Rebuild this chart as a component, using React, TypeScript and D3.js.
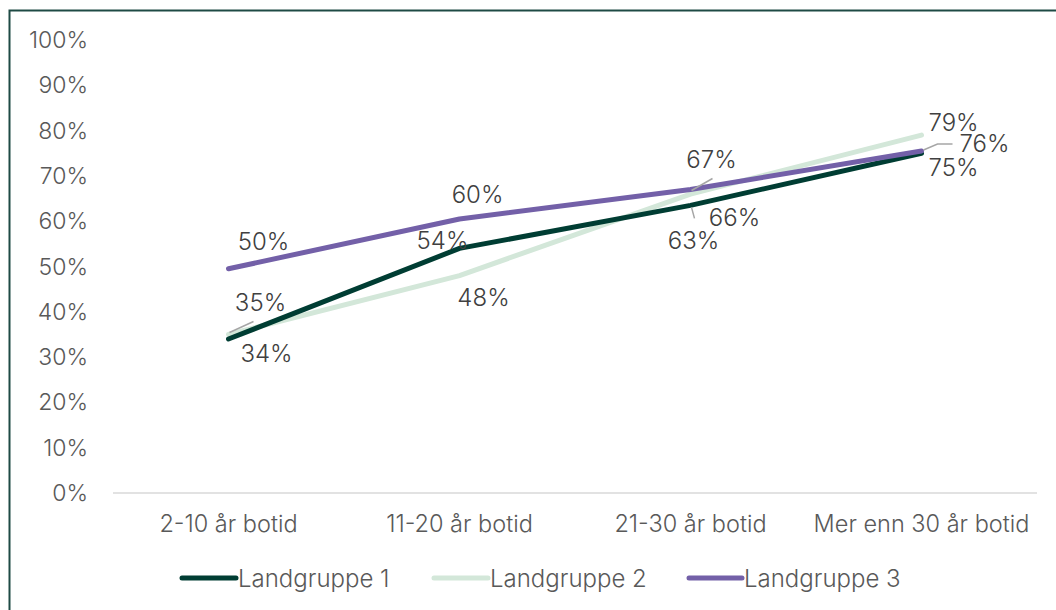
import React from "react";
import * as d3 from "d3";

const categories = ["2-10 år botid", "11-20 år botid", "21-30 år botid", "Mer enn 30 år botid"];
const seriesNames = ["Landgruppe 1", "Landgruppe 2", "Landgruppe 3"];
const landgruppe1 = [0.34, 0.54, 0.635, 0.75];
const landgruppe2 = [0.35, 0.48, 0.66, 0.79];
const landgruppe3 = [0.495, 0.605, 0.67, 0.755];
const labels1 = ["34%", "54%", "63%", "75%"];
const labels2 = ["35%", "48%", "66%", "79%"];
const labels3 = ["50%", "60%", "67%", "76%"];
const yTicks = [0, 0.1, 0.2, 0.3, 0.4, 0.5, 0.6, 0.7, 0.8, 0.9, 1.0];

const colors = ["#003d33", "#d3e7d9", "#7360a8"];

// label offsets (layout only): [dx, dy, leader?]
type Off = { dx: number; dy: number; leader?: [number, number][] };
const offsets: Off[][] = [
  [
    { dx: 38, dy: 15 },
    { dx: -17, dy: -8 },
    { dx: 3, dy: 35, leader: [[1, 2], [4, 13]] },
    { dx: 32, dy: 14 },
  ],
  [
    { dx: 32, dy: -32, leader: [[1, -2], [25, -13]] },
    { dx: 24, dy: 22 },
    { dx: 44, dy: 23 },
    { dx: 32, dy: -13 },
  ],
  [
    { dx: 35, dy: -27 },
    { dx: 18, dy: -24 },
    { dx: 21, dy: -30, leader: [[1, 1], [22, -11]] },
    { dx: 63, dy: -7, leader: [[2, -1], [16, -7], [31, -7]] },
  ],
];

export default function App() {
  const W = 1056;
  const H = 610;
  const x = d3.scalePoint<string>().domain(categories).range([113, 1037]).padding(0.5);
  const y = d3.scaleLinear().domain([0, 1]).range([493, 40]);
  const series = [landgruppe1, landgruppe2, landgruppe3];
  const labels = [labels1, labels2, labels3];
  const line = d3
    .line<number>()
    .x((_, i) => x(categories[i]) as number)
    .y((d) => y(d));
  const font = "Inter, 'Noto Sans', sans-serif";
  const fmt = d3.format(".0%");

  const legendItems = [
    { lx: 182, tx: 238 },
    { lx: 434, tx: 490 },
    { lx: 689, tx: 744 },
  ];

  return (
    <svg
      width={W}
      height={H}
      style={{ position: "absolute", left: 0, top: 0, background: "#fff" }}
      fontFamily={font}
    >
      <rect x={9.5} y={10.5} width={1100} height={700} fill="#fff" stroke="#1e4a44" strokeWidth={2} />
      {/* baseline */}
      <line x1={113} x2={1037} y1={y(0)} y2={y(0)} stroke="#d9d9d9" strokeWidth={1.5} />
      {/* y ticks */}
      {yTicks.map((t) => (
        <text
          key={t}
          x={88}
          y={y(t)}
          textAnchor="end"
          dominantBaseline="central"
          fontSize={23}
          fontWeight={300}
          fill="#595959"
        >
          {fmt(t)}
        </text>
      ))}
      {/* x labels */}
      {categories.map((c) => (
        <text
          key={c}
          x={x(c)}
          y={523}
          textAnchor="middle"
          dominantBaseline="central"
          fontSize={23.5}
          fontWeight={300}
          fill="#595959"
        >
          {c}
        </text>
      ))}
      {/* lines */}
      {[1, 0, 2].map((si) => (
        <path
          key={si}
          d={line(series[si]) || ""}
          fill="none"
          stroke={colors[si]}
          strokeWidth={5}
          strokeLinecap="round"
          strokeLinejoin="round"
        />
      ))}
      {/* leaders */}
      {series.map((s, si) =>
        s.map((v, i) => {
          const o = offsets[si][i];
          if (!o.leader) return null;
          const px = x(categories[i]) as number;
          const py = y(v);
          const pts = o.leader.map(([a, b]) => [px + a, py + b] as [number, number]);
          return (
            <polyline
              key={`l${si}-${i}`}
              points={pts.map((p) => p.join(",")).join(" ")}
              fill="none"
              stroke="#a6a6a6"
              strokeWidth={1.5}
            />
          );
        })
      )}
      {/* data labels */}
      {series.map((s, si) =>
        s.map((v, i) => {
          const o = offsets[si][i];
          const px = x(categories[i]) as number;
          const py = y(v);
          return (
            <text
              key={`t${si}-${i}`}
              x={px + o.dx}
              y={py + o.dy}
              textAnchor="middle"
              dominantBaseline="central"
              fontSize={24}
              fontWeight={300}
              fill="#404040"
            >
              {labels[si][i]}
            </text>
          );
        })
      )}
      {/* legend */}
      {seriesNames.map((n, i) => (
        <g key={n}>
          <line
            x1={legendItems[i].lx}
            x2={legendItems[i].tx - 2}
            y1={578}
            y2={578}
            stroke={colors[i]}
            strokeWidth={5}
            strokeLinecap="round"
          />
          <text
            x={legendItems[i].tx}
            y={578}
            dominantBaseline="central"
            fontSize={24}
            fontWeight={300}
            fill="#595959"
          >
            {n}
          </text>
        </g>
      ))}
    </svg>
  );
}
